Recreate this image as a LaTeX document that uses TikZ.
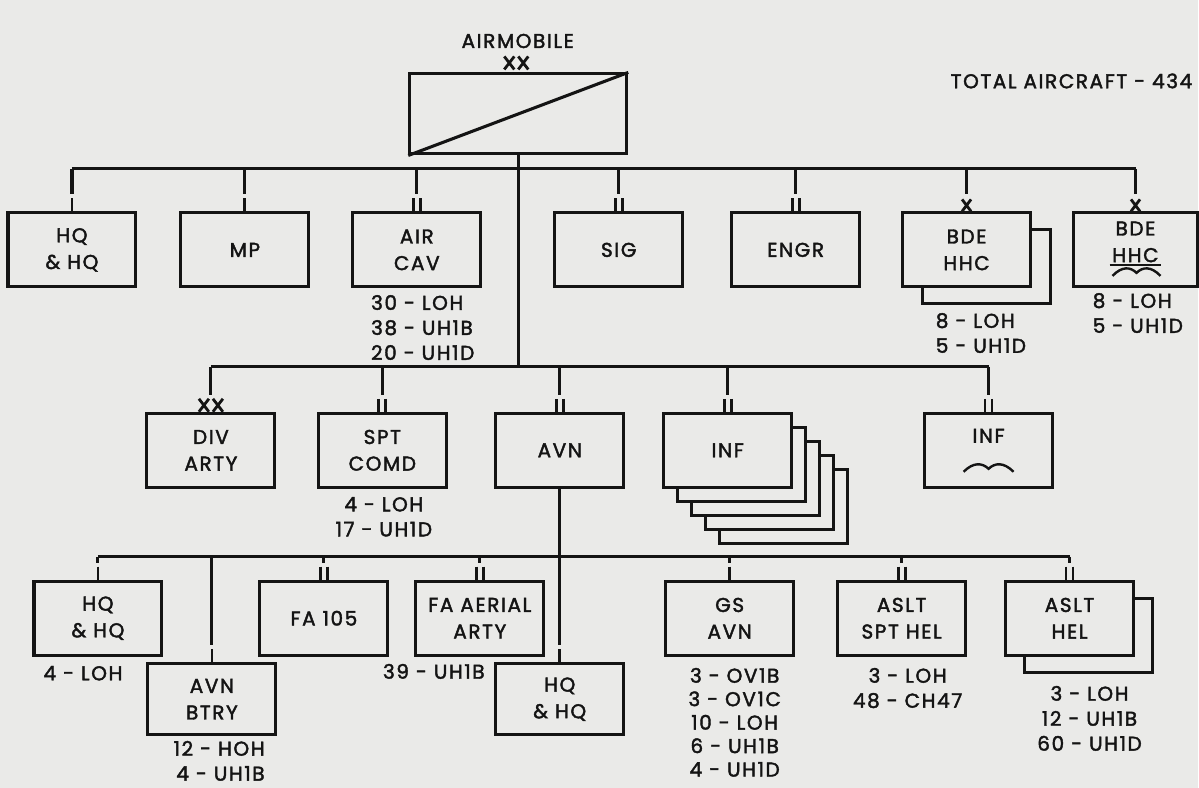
\documentclass[tikz,border=0pt]{standalone}
\usepackage{fontspec}
\setmainfont{Poppins}[LetterSpace=8,FakeBold=2]
\usetikzlibrary{calc}
\definecolor{bg}{RGB}{234,234,232}
\definecolor{ink}{RGB}{20,20,20}
\newcommand\dropto[2]{\draw[ln] (#2.north |- #1) -- ($(#2.north)+(0,-17)$);}
\newcommand\markI[1]{\draw[sym] ($(#1)+(0,-13)$) -- (#1);}
\newcommand\markII[1]{\draw[sym] ($(#1)+(-3.5,-13)$) -- ++(0,13) ($(#1)+(3.5,-13)$) -- ++(0,13);}
\newcommand\markX[1]{\draw[sym] ($(#1)+(-4.5,-12)$) -- ++(9,12) ($(#1)+(4.5,-12)$) -- ++(-9,12);}
\newcommand\markXX[1]{\draw[sym] ($(#1)+(-12,-13)$) -- ++(10,13) ($(#1)+(-2,-13)$) -- ++(-10,13) ($(#1)+(2,-13)$) -- ++(10,13) ($(#1)+(12,-13)$) -- ++(-10,13);}
\newcommand\wavy[3]{\draw[sym,line width=1.8pt] (#1-#3,#2+4) .. controls (#1-0.6*#3,#2-6) and (#1-0.25*#3,#2-5) .. (#1,#2+1) .. controls (#1+0.25*#3,#2-5) and (#1+0.6*#3,#2-6) .. (#1+#3,#2+4);}
\begin{document}
\begin{tikzpicture}[x=0.75pt,y=-0.75pt,
 ln/.style={draw=ink,line width=2.3pt},
 sym/.style={draw=ink,line width=2.1pt},
 unit/.style={draw=ink,line width=2.3pt,fill=bg,minimum width=96pt,minimum height=55.5pt,inner sep=0pt,align=center,text=ink,font=\fontsize{15}{20}\selectfont},
 utxt/.style={inner sep=0pt,align=center,text=ink,font=\fontsize{15}{20}\selectfont},
 lbl/.style={inner sep=0pt,text=ink,font=\fontsize{15}{18.75}\selectfont},
 ttl/.style={inner sep=0pt,text=ink,font=\fontsize{15}{18}\selectfont}]
\path[fill=bg] (0,0) rectangle (1199,788);

% division
\node[unit,minimum width=162.75pt,minimum height=60pt] (div) at (518.5,114) {};
\draw[ln] (div.south west) -- (div.north east);
\node[ttl] (airmob) at (518,41) {AIRMOBILE};
\node[ttl,anchor=east] (total) at (1193,81) {TOTAL AIRCRAFT - 434};
\coordinate (divxx) at ($(div.north)+(-2,-3)$);
\markXX{divxx}

% row 1
\coordinate (b1) at (518.5,169);
\node[unit] (hq1) at (72,250) {HQ\\\& HQ};
\node[unit] (mp) at (245,250) {MP};
\node[unit] (aircav) at (417,250) {AIR\\CAV};
\node[unit] (sig) at (619,250) {SIG};
\node[unit] (engr) at (796,250) {ENGR};
\node[unit] (bde1s) at (987,267) {};
\node[unit] (bde1) at (967,250) {BDE\\HHC};
\node[unit,minimum width=93pt] (bde2) at (1136,250) {};
\node[utxt] (bde2t) at (1136,242) {BDE\\HHC};
\draw[sym,line width=1.4pt] (1110,265) -- (1162,265);
\wavy{1137}{272}{24}
\draw[ln] (hq1.north |- b1) -- (bde2.north |- b1);
\dropto{b1}{hq1} \markI{hq1.north}
\dropto{b1}{mp} \markI{mp.north}
\dropto{b1}{aircav} \markII{aircav.north}
\dropto{b1}{sig} \markII{sig.north}
\dropto{b1}{engr} \markII{engr.north}
\dropto{b1}{bde1} \markX{bde1.north}
\dropto{b1}{bde2} \markX{bde2.north}
\node[lbl,anchor=north west,align=left] (aircavl) at (371,295) {30 - LOH\\38 - UH1B\\20 - UH1D};
\node[lbl,anchor=north west,align=left] (bde1l) at (936,313) {8 - LOH\\5 - UH1D};
\node[lbl,anchor=north west,align=left] (bde2l) at (1093,293) {8 - LOH\\5 - UH1D};

% row 2
\coordinate (b2) at (518.5,367);
\draw[ln] (div.south) -- (b2);
\node[unit] (divarty) at (211,450.5) {DIV\\ARTY};
\node[unit] (sptcomd) at (382.5,450.5) {SPT\\COMD};
\node[unit] (avn) at (560,450.5) {AVN};
\node[unit] (inf4) at (784,506.5) {};
\node[unit] (inf3) at (770,492.5) {};
\node[unit] (inf2) at (756,478.5) {};
\node[unit] (inf1) at (742,464.5) {};
\node[unit] (inf) at (728,450.5) {INF};
\node[unit] (infa) at (989,450.5) {};
\node[utxt] (infat) at (989,436) {INF};
\wavy{989}{468}{25}
\draw[ln] (divarty.north |- b2) -- (infa.north |- b2);
\dropto{b2}{divarty} \markXX{divarty.north}
\dropto{b2}{sptcomd} \markII{sptcomd.north}
\dropto{b2}{avn} \markII{avn.north}
\dropto{b2}{inf} \markII{inf.north}
\dropto{b2}{infa} \markII{infa.north}
\node[lbl,anchor=north,align=center] (sptl) at (384,497) {4 - LOH\\17 - UH1D};

% row 3
\coordinate (b3) at (560,557);
\node[unit] (hq3) at (98,618.5) {HQ\\\& HQ};
\node[unit] (fa105) at (324,618.5) {FA 105};
\node[unit] (faaer) at (480,618.5) {FA AERIAL\\ARTY};
\node[unit] (gsavn) at (730,618.5) {GS\\AVN};
\node[unit] (asltspt) at (902,618.5) {ASLT\\SPT HEL};
\node[unit] (aslthels) at (1089,635.5) {};
\node[unit] (aslthel) at (1070,618.5) {ASLT\\HEL};
\node[unit,minimum height=53.25pt] (avnbtry) at (212,699.5) {AVN\\BTRY};
\node[unit,minimum height=53.25pt] (hq4) at (560,699.5) {HQ\\\& HQ};
\draw[ln] (hq3.north |- b3) -- (aslthel.north |- b3);
\draw[ln] (avn.south) -- ($(hq4.north)+(0,-17)$); \markI{hq4.north}
\dropto{b3}{hq3} \markI{hq3.north}
\dropto{b3}{avnbtry} \markI{avnbtry.north}
\dropto{b3}{fa105} \markII{fa105.north}
\dropto{b3}{faaer} \markII{faaer.north}
\dropto{b3}{gsavn} \markI{gsavn.north}
\dropto{b3}{asltspt} \markII{asltspt.north}
\dropto{b3}{aslthel} \markII{aslthel.north}
\node[lbl,anchor=north] (hq3l) at (83,666) {4 - LOH};
\node[lbl,anchor=north east,align=right] (btryl) at (265,741) {12 - HOH\\4 - UH1B};
\node[lbl,anchor=north] (faaerl) at (434,664) {39 - UH1B};
\node[lbl,anchor=north,align=center,font=\fontsize{15}{17.6}\selectfont] (gsl) at (735,668) {3 - OV1B\\3 - OV1C\\10 - LOH\\6 - UH1B\\4 - UH1D};
\node[lbl,anchor=north,align=center] (asltsptl) at (908,668) {3 - LOH\\48 - CH47};
\node[lbl,anchor=north,align=center] (aslthell) at (1090,686) {3 - LOH\\12 - UH1B\\60 - UH1D};
\end{tikzpicture}
\end{document}
